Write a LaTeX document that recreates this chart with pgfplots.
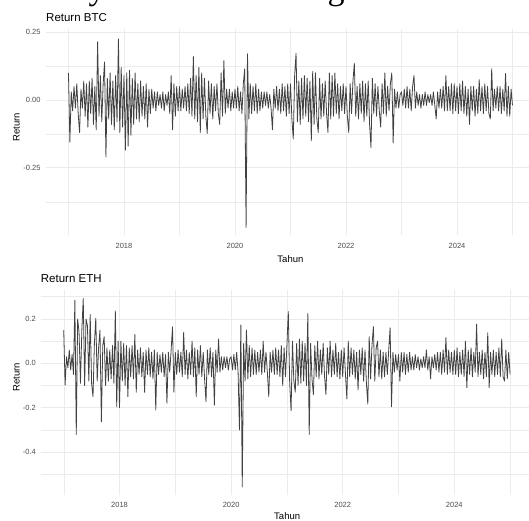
\documentclass[border=0pt]{standalone}
\usepackage{fontspec}
\setmainfont{Liberation Sans}
\newfontfamily\cutserif{Liberation Serif}
\usepackage{pgfplots}
\usepackage{pgfplotstable}
\pgfplotsset{compat=1.18}

\definecolor{gridgray}{RGB}{235,235,235}
\definecolor{ticktext}{RGB}{77,77,77}
\definecolor{retline}{RGB}{66,66,66}

\pgfplotstableread[row sep=\\]{
r\\
0.10\\ -0.155\\ 0.03\\ -0.04\\ 0.05\\ -0.03\\ 0.06\\ -0.05\\ -0.12\\ 0.04\\ -0.03\\ 0.07\\ -0.06\\ 0.06\\ -0.10\\ 0.07\\ -0.05\\ 0.08\\ -0.09\\ 0.05\\ -0.11\\ 0.215\\ -0.06\\ 0.09\\ -0.08\\ 0.06\\ 0.14\\ -0.21\\ 0.08\\ -0.07\\ 0.10\\ -0.09\\ 0.07\\ -0.11\\ 0.09\\ -0.08\\ 0.225\\ -0.12\\ 0.12\\ -0.10\\
0.09\\ -0.185\\ 0.10\\ -0.17\\ 0.11\\ -0.13\\ 0.08\\ -0.09\\ 0.10\\ -0.07\\ 0.06\\ -0.08\\ 0.07\\ -0.06\\ 0.05\\ -0.07\\ 0.06\\ -0.10\\ 0.04\\ -0.05\\ 0.04\\ -0.03\\ 0.03\\ -0.04\\ 0.03\\ -0.02\\ 0.02\\ -0.03\\ 0.03\\ -0.04\\ 0.02\\ -0.02\\ 0.03\\ -0.05\\ 0.09\\ -0.11\\ 0.06\\ -0.06\\ 0.05\\ -0.04\\
0.05\\ -0.04\\ 0.04\\ -0.03\\ 0.05\\ -0.04\\ 0.06\\ -0.05\\ 0.08\\ -0.06\\ 0.16\\ -0.07\\ 0.09\\ -0.08\\ 0.12\\ -0.12\\ 0.10\\ -0.07\\ 0.08\\ -0.06\\ -0.123\\ 0.07\\ -0.05\\ 0.06\\ -0.07\\ 0.05\\ -0.04\\ 0.06\\ -0.05\\ -0.09\\ 0.10\\ -0.06\\ 0.145\\ -0.05\\ 0.04\\ -0.03\\ 0.04\\ -0.04\\ 0.03\\ -0.03\\
0.04\\ -0.03\\ 0.05\\ -0.04\\ 0.03\\ -0.05\\ 0.06\\ 0.115\\ -0.47\\ 0.17\\ -0.07\\ 0.06\\ -0.05\\ 0.05\\ -0.04\\ 0.06\\ -0.05\\ 0.04\\ -0.04\\ 0.03\\ -0.03\\ 0.03\\ -0.02\\ 0.03\\ -0.03\\ 0.02\\ -0.03\\ -0.11\\ 0.04\\ -0.03\\ 0.05\\ -0.04\\ 0.04\\ -0.05\\ 0.06\\ -0.04\\ 0.05\\ -0.06\\ 0.06\\ -0.05\\
0.06\\ -0.07\\ -0.144\\ 0.09\\ 0.172\\ -0.08\\ 0.07\\ -0.09\\ 0.08\\ -0.07\\ 0.09\\ -0.06\\ 0.08\\ -0.08\\ 0.07\\ -0.15\\ 0.105\\ -0.09\\ 0.10\\ -0.07\\ -0.12\\ 0.08\\ -0.07\\ 0.06\\ -0.06\\ 0.07\\ -0.05\\ -0.12\\ 0.10\\ -0.07\\ 0.09\\ -0.06\\ 0.10\\ -0.05\\ 0.06\\ -0.07\\ 0.05\\ -0.04\\ 0.06\\ -0.05\\
0.05\\ -0.06\\ -0.12\\ 0.06\\ -0.05\\ 0.07\\ 0.135\\ -0.06\\ 0.05\\ -0.07\\ 0.06\\ -0.05\\ 0.07\\ -0.08\\ 0.06\\ -0.06\\ 0.07\\ -0.09\\ -0.176\\ 0.08\\ -0.05\\ 0.06\\ -0.06\\ 0.05\\ -0.04\\ -0.10\\ 0.06\\ -0.05\\ 0.10\\ -0.06\\ 0.05\\ -0.04\\ 0.06\\ 0.10\\ -0.158\\ 0.04\\ -0.03\\ 0.03\\ -0.03\\ 0.02\\
0.03\\ -0.02\\ 0.04\\ -0.03\\ 0.05\\ -0.03\\ 0.04\\ -0.04\\ 0.05\\ 0.09\\ -0.03\\ 0.03\\ -0.02\\ 0.02\\ -0.03\\ 0.02\\ -0.02\\ 0.03\\ -0.02\\ 0.02\\ -0.01\\ 0.02\\ -0.02\\ 0.03\\ -0.02\\ -0.07\\ 0.03\\ -0.03\\ 0.04\\ -0.03\\ 0.05\\ -0.04\\ 0.09\\ -0.04\\ 0.05\\ -0.04\\ 0.06\\ -0.05\\ 0.06\\ -0.04\\
0.05\\ -0.05\\ 0.06\\ -0.04\\ 0.07\\ -0.05\\ 0.05\\ -0.06\\ 0.04\\ -0.09\\ 0.05\\ -0.04\\ 0.05\\ -0.06\\ 0.04\\ -0.05\\ 0.075\\ -0.04\\ 0.05\\ -0.05\\ 0.06\\ -0.04\\ 0.05\\ -0.05\\ -0.07\\ 0.115\\ -0.04\\ 0.04\\ -0.03\\ 0.05\\ -0.04\\ 0.05\\ -0.05\\ 0.04\\ -0.04\\ 0.098\\ -0.06\\ 0.05\\ -0.06\\ 0.04\\ -0.02\\
}\btc

\pgfplotstableread[row sep=\\]{
r\\
0.15\\ -0.098\\ 0.03\\ -0.02\\ 0.06\\ -0.03\\ 0.04\\ -0.05\\ 0.283\\ -0.32\\ 0.20\\ 0.14\\ -0.09\\ 0.15\\ 0.293\\ -0.10\\ 0.20\\ 0.17\\ -0.08\\ 0.22\\ -0.09\\ -0.15\\ 0.09\\ 0.203\\ -0.08\\ 0.07\\ 0.15\\ -0.263\\ 0.08\\ 0.12\\ -0.10\\ 0.07\\ -0.08\\ 0.06\\ -0.07\\ 0.08\\ -0.09\\ 0.236\\ -0.195\\ 0.10\\
-0.20\\ 0.10\\ -0.08\\ 0.09\\ -0.10\\ 0.08\\ -0.15\\ 0.07\\ -0.06\\ 0.08\\ -0.07\\ 0.13\\ -0.13\\ 0.06\\ -0.05\\ 0.07\\ -0.06\\ 0.05\\ -0.13\\ 0.06\\ -0.05\\ 0.07\\ -0.06\\ 0.05\\ -0.07\\ 0.06\\ -0.21\\ 0.05\\ -0.05\\ 0.04\\ -0.04\\ 0.05\\ -0.06\\ 0.04\\ -0.18\\ 0.05\\ -0.04\\ 0.06\\ 0.165\\ -0.13\\
0.05\\ -0.05\\ 0.06\\ -0.04\\ 0.05\\ -0.06\\ 0.14\\ -0.05\\ 0.06\\ -0.07\\ 0.05\\ -0.05\\ 0.10\\ -0.06\\ 0.07\\ -0.15\\ 0.06\\ -0.05\\ 0.08\\ -0.06\\ 0.05\\ -0.07\\ -0.173\\ 0.06\\ -0.05\\ 0.07\\ -0.06\\ 0.05\\ -0.188\\ 0.06\\ -0.04\\ 0.11\\ -0.04\\ 0.03\\ -0.03\\ 0.03\\ -0.02\\ 0.03\\ -0.03\\ 0.02\\
0.03\\ -0.03\\ 0.04\\ -0.03\\ 0.05\\ -0.04\\ -0.30\\ 0.173\\ -0.556\\ 0.09\\ -0.08\\ 0.15\\ -0.07\\ 0.08\\ -0.06\\ 0.07\\ -0.05\\ 0.06\\ -0.05\\ 0.05\\ -0.04\\ 0.06\\ -0.05\\ 0.10\\ -0.04\\ 0.05\\ -0.04\\ -0.15\\ 0.05\\ -0.04\\ 0.06\\ -0.05\\ 0.07\\ -0.05\\ 0.06\\ -0.06\\ 0.08\\ -0.10\\ 0.07\\ -0.06\\
0.08\\ 0.233\\ -0.09\\ -0.214\\ 0.10\\ -0.08\\ -0.13\\ 0.09\\ -0.10\\ 0.11\\ -0.09\\ 0.10\\ -0.08\\ 0.09\\ -0.10\\ 0.225\\ -0.32\\ 0.09\\ -0.07\\ -0.14\\ 0.08\\ -0.06\\ 0.10\\ -0.07\\ 0.06\\ -0.05\\ 0.09\\ -0.06\\ -0.14\\ 0.07\\ -0.05\\ 0.10\\ -0.06\\ 0.06\\ -0.05\\ 0.09\\ -0.06\\ 0.05\\ -0.07\\ 0.06\\
-0.06\\ 0.07\\ -0.05\\ -0.16\\ 0.10\\ -0.06\\ 0.07\\ -0.05\\ 0.06\\ -0.07\\ 0.05\\ -0.12\\ 0.06\\ -0.05\\ 0.07\\ -0.08\\ 0.06\\ -0.09\\ -0.183\\ 0.12\\ -0.07\\ 0.08\\ 0.165\\ -0.08\\ 0.07\\ 0.10\\ -0.06\\ 0.06\\ -0.07\\ 0.05\\ -0.06\\ 0.05\\ -0.05\\ 0.06\\ 0.16\\ -0.195\\ 0.05\\ -0.04\\ 0.04\\ -0.03\\
0.04\\ -0.08\\ 0.05\\ -0.04\\ 0.05\\ -0.05\\ 0.04\\ -0.04\\ 0.05\\ -0.03\\ 0.03\\ -0.03\\ 0.04\\ -0.02\\ 0.03\\ -0.03\\ 0.02\\ -0.02\\ 0.03\\ -0.02\\ 0.06\\ -0.03\\ 0.03\\ -0.07\\ 0.03\\ -0.02\\ 0.04\\ -0.03\\ 0.05\\ -0.04\\ 0.05\\ -0.05\\ 0.06\\ -0.04\\ 0.116\\ -0.05\\ 0.06\\ -0.04\\ 0.05\\ -0.05\\
0.06\\ -0.05\\ 0.07\\ -0.06\\ 0.05\\ -0.05\\ 0.06\\ -0.06\\ 0.10\\ -0.11\\ 0.06\\ -0.05\\ 0.07\\ -0.06\\ 0.05\\ -0.04\\ 0.177\\ -0.06\\ 0.05\\ -0.05\\ 0.06\\ -0.07\\ 0.05\\ -0.06\\ 0.138\\ -0.11\\ 0.05\\ -0.05\\ 0.06\\ -0.06\\ 0.05\\ -0.05\\ 0.07\\ -0.06\\ 0.11\\ -0.06\\ -0.08\\ 0.06\\ -0.07\\ 0.05\\ -0.05\\
}\eth

\pgfplotsset{retpanel/.style={
    scale only axis,
    axis line style={draw=none},
    major tick length=0pt, minor tick length=0pt,
    xmajorgrids, ymajorgrids, xminorgrids, yminorgrids,
    major grid style={gridgray, line width=0.8pt},
    minor grid style={gridgray, line width=0.4pt},
    xtick={2018,2020,2022,2024},
    xticklabels={2018,2020,2022,2024},
    minor xtick={2017,2019,2021,2023,2025},
    ticklabel style={font=\fontsize{7.5}{9}\selectfont, text=ticktext, inner sep=0pt},
    yticklabel style={anchor=east, xshift=-5.3pt},
    label style={font=\fontsize{9.5}{11}\selectfont, inner sep=0pt},
    title style={font=\fontsize{11.5}{13}\selectfont, inner sep=0pt, anchor=west},
    xlabel={Tahun}, ylabel={Return},
}}

\begin{document}
\begin{tikzpicture}
  % cut-off line of running text above the figure
  \node[anchor=base west, inner sep=0pt, font=\cutserif\fontsize{34}{40}\selectfont] at (-5pt,520pt) {but may still serve strategic roles under i};

  \begin{axis}[retpanel,
      at={(46pt,284.6pt)}, anchor=south west,
      width=483pt, height=206.5pt,
      xmin=2016.595, xmax=2025.297,
      ymin=-0.499, ymax=0.262,
      ytick={-0.25,0,0.25},
      yticklabels={-0.25,0.00,0.25},
      minor ytick={-0.375,-0.125,0.125},
      xticklabel style={anchor=north, yshift=-7.5pt},
      title={Return BTC},
      title style={at={(rel axis cs:0,1)}, yshift=4.9pt},
      xlabel style={at={(rel axis cs:0.506,0)}, anchor=north, yshift=-19.6pt},
      ylabel style={at={(rel axis cs:0,0.5225)}, anchor=center, yshift=29.5pt},
    ]
    \addplot[retline, line width=0.8pt, line join=round] table[x expr=2017+\coordindex/40, y=r] {\btc};
  \end{axis}

  \begin{axis}[retpanel,
      at={(41.4pt,24.9pt)}, anchor=south west,
      width=487.6pt, height=205.3pt,
      xmin=2016.600, xmax=2025.339,
      ymin=-0.593, ymax=0.331,
      ytick={-0.4,-0.2,0,0.2},
      yticklabels={-0.4,-0.2,0.0,0.2},
      minor ytick={-0.5,-0.3,-0.1,0.1,0.3},
      xticklabel style={anchor=north, yshift=-6.6pt},
      title={Return ETH},
      title style={at={(rel axis cs:0,1)}, xshift=-0.7pt, yshift=5.7pt},
      xlabel style={at={(rel axis cs:0.504,0)}, anchor=north, yshift=-17.6pt},
      ylabel style={at={(rel axis cs:0,0.575)}, anchor=center, yshift=24.9pt},
    ]
    \addplot[retline, line width=0.8pt, line join=round] table[x expr=2017+\coordindex/40, y=r] {\eth};
  \end{axis}

  \pgfresetboundingbox
  \useasboundingbox (0pt,0pt) rectangle (529pt,520pt);
\end{tikzpicture}
\end{document}
